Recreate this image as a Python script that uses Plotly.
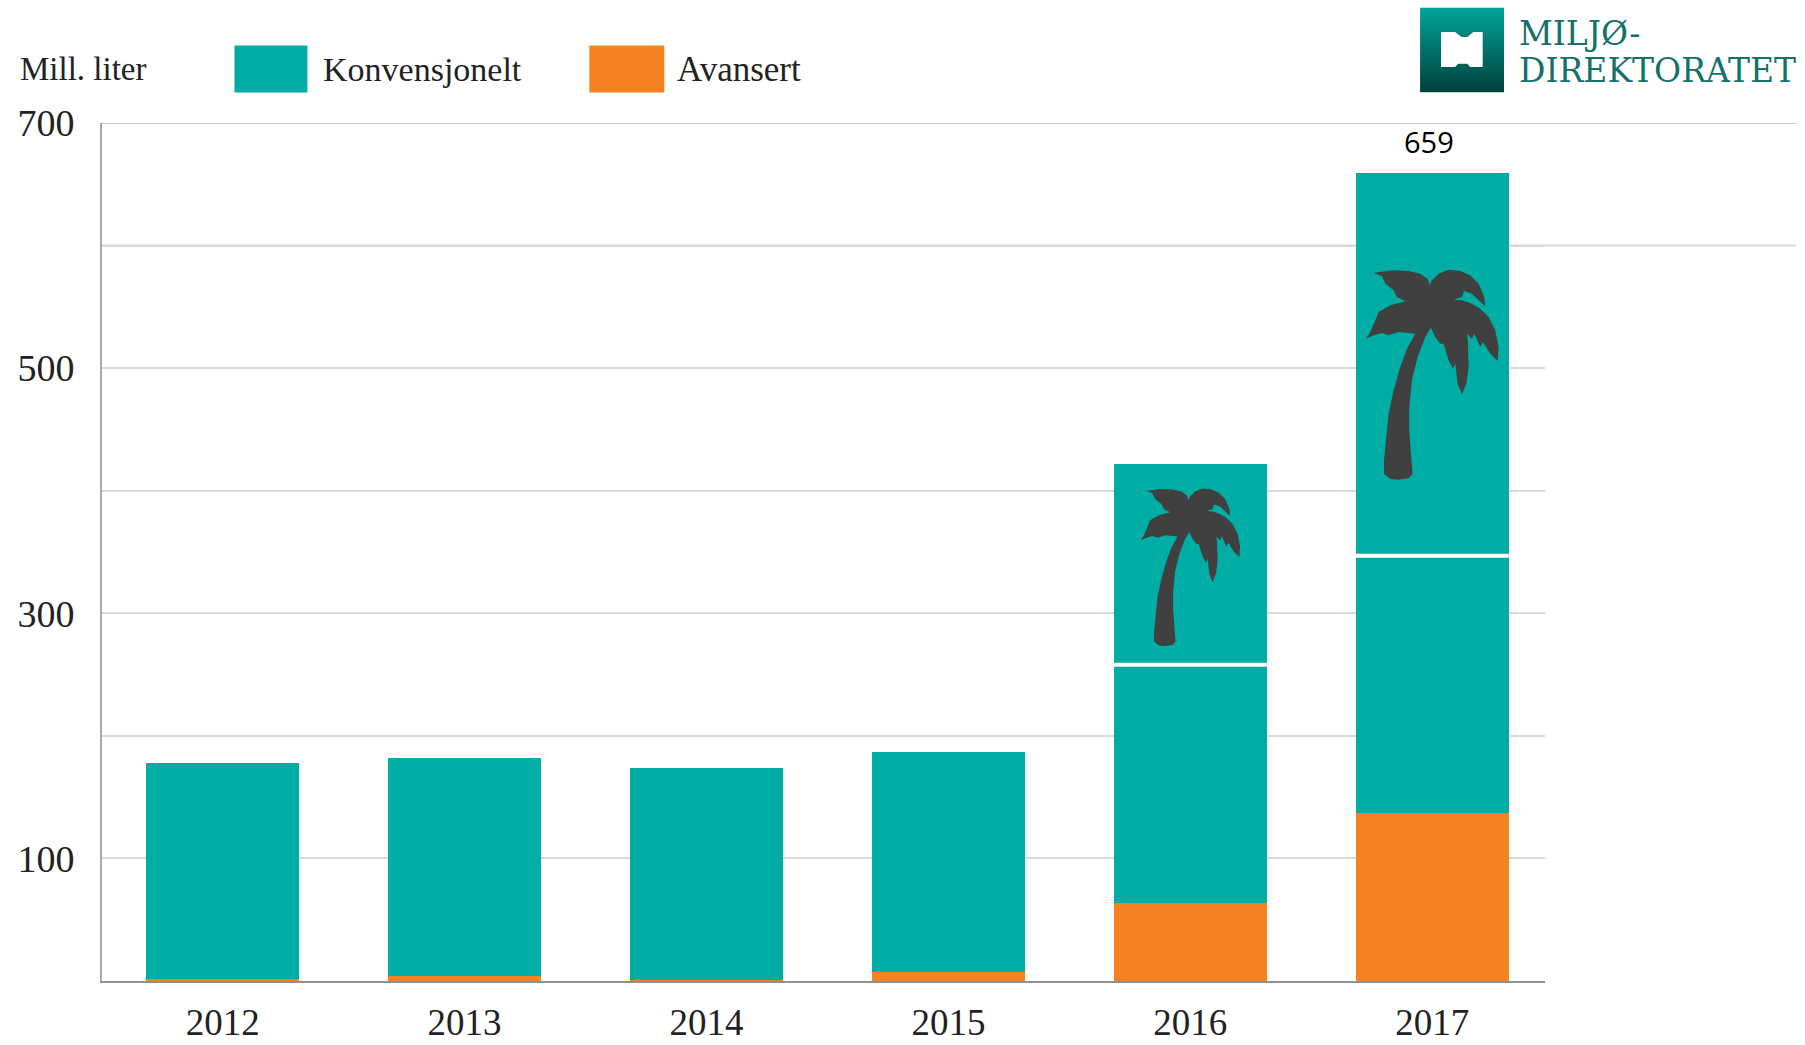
import base64
import plotly.graph_objects as go

years = ["2012", "2013", "2014", "2015", "2016", "2017"]
avansert = [1.5, 4, 1.2, 7, 64, 137]
konvensjonelt_ovrig = [176.5, 178, 172.4, 180, 194, 210]
konvensjonelt_palme = [0, 0, 0, 0, 164, 312]
y_ticks = [100, 200, 300, 400, 500, 600, 700]
y_labels = ["100", "", "300", "", "500", "", "700"]
separator_years = [4, 5]
palm_anchors = [(4, 337.6, 0.75), (5, 494.7, 1.0)]
total_label_index = 5

TEAL = "#00ada5"
ORANGE = "#f58220"
SERIF = "Liberation Serif"
W, H = 1805, 1045
L, R, T, B = 101.5, 1545, 122.6, 981

# Palm icon outline, traced in a 200x260 box (units of 1/3 px)
PALM = [(131,700),(150,716),(175,718),(205,714),(217,700),(212,640),(207,570),(207,500),(215,420),(232,350),
        (255,290),(272,262),(285,290),(300,310),(310,310),(325,360),(338,385),(345,370),(352,430),(365,462),
        (378,430),(385,380),(383,305),(380,280),(395,295),(402,280),(420,320),(428,305),(450,340),(472,362),
        (475,320),(465,270),(445,230),(420,205),(390,188),(365,180),(340,178),(365,170),(372,152),(395,160),
        (415,180),(435,198),(432,170),(415,130),(390,105),(360,92),(325,88),(295,100),(275,120),(268,135),
        (262,115),(240,100),(205,92),(160,90),(100,97),(125,108),(135,130),(160,150),(170,170),(195,183),
        (150,195),(115,215),(105,240),(90,275),(78,295),(100,285),(125,278),(145,285),(175,275),(225,280),
        (200,325),(180,380),(160,450),(145,520),(137,600),(131,660)]
PALM_CX, PALM_CY = 276, 403


def paper_x(x):
    return (x - L) / (R - L)


def paper_y(y):
    return (B - y) / (B - T)


def palm_path(scale):
    pts = [((x - PALM_CX) / 3 * scale, -(y - PALM_CY) / 3 * scale) for x, y in PALM]
    return "M " + " L ".join(f"{a:.2f} {b:.2f}" for a, b in pts) + " Z"


def rect(x0, y0, x1, y1, color, layer="above"):
    return dict(type="rect", xref="paper", yref="paper", x0=paper_x(x0), x1=paper_x(x1),
                y0=paper_y(y1), y1=paper_y(y0), fillcolor=color, line_width=0, layer=layer)


def label(x, y, text, size=35, color="#222222", family=SERIF, anchor="left"):
    return dict(xref="paper", yref="paper", x=paper_x(x), y=paper_y(y), text=text, showarrow=False,
                xanchor=anchor, yanchor="middle", font=dict(family=family, size=size, color=color))


fig = go.Figure()
x_index = list(range(len(years)))
for name, vals, col in [("Avansert", avansert, ORANGE),
                        ("Konvensjonelt", konvensjonelt_ovrig, TEAL),
                        ("Konvensjonelt (palmeolje)", konvensjonelt_palme, TEAL)]:
    fig.add_trace(go.Bar(x=x_index, y=vals, name=name, marker=dict(color=col, line_width=0), width=0.632))

shapes = []
# top gridlines that run on past the plot area
for v, c in [(600, "#d9d9d9"), (700, "#c4c4c4")]:
    shapes.append(dict(type="line", xref="paper", yref="y", x0=0, x1=paper_x(1796), y0=v, y1=v,
                       line=dict(color=c, width=2), layer="below"))
# separators between ordinary and palm-oil-based fuel
for i in separator_years:
    v = avansert[i] + konvensjonelt_ovrig[i]
    shapes.append(dict(type="line", xref="x", yref="y", x0=i - 0.316, x1=i + 0.316, y0=v, y1=v,
                       line=dict(color="white", width=4)))
# palm icons
for i, v, s in palm_anchors:
    shapes.append(dict(type="path", xref="x", yref="y", xsizemode="pixel", ysizemode="pixel",
                       xanchor=i, yanchor=v, path=palm_path(s), fillcolor="#404040", line_width=0))
# legend swatches
shapes.append(rect(234, 45, 307, 92, TEAL))
shapes.append(rect(589, 45, 664, 92, ORANGE))
# logo book (sits on the gradient square image)
BOOK = [(183,95),(225,95),(245,110),(262,110),(280,95),(308,95),(308,200),(270,200),(262,190),(235,190),(225,200),(183,200)]
shapes.append(dict(type="path", xref="paper", yref="paper",
                   path="M " + " L ".join(f"{paper_x(1380 + a / 3):.5f} {paper_y(c / 3):.5f}" for a, c in BOOK) + " Z",
                   fillcolor="white", line_width=0))

LOGO_SVG = ('<svg xmlns="http://www.w3.org/2000/svg" width="84" height="85" viewBox="0 0 84 85">'
            '<defs><linearGradient id="g" x1="0" y1="0" x2="0" y2="1">'
            '<stop offset="0" stop-color="#00a59b"/><stop offset="1" stop-color="#003f3a"/></linearGradient></defs>'
            '<rect width="84" height="85" fill="url(#g)"/></svg>')
logo_uri = "data:image/svg+xml;base64," + base64.b64encode(LOGO_SVG.encode()).decode()
images = [dict(source=logo_uri, xref="paper", yref="paper", x=paper_x(1420), y=paper_y(7),
               sizex=paper_x(1504) - paper_x(1420), sizey=paper_y(7) - paper_y(92),
               xanchor="left", yanchor="top", sizing="stretch", layer="above")]

total = avansert[total_label_index] + konvensjonelt_ovrig[total_label_index] + konvensjonelt_palme[total_label_index]
annotations = [
    label(17, 69, "Mill. liter", size=33),
    label(321, 69, "Konvensjonelt", size=34),
    label(675, 69, "Avansert", size=35),
    label(1517, 33, "MILJØ-", size=33, color="#14706a", family="DejaVu Serif"),
    label(1517, 70, "DIREKTORATET", size=33, color="#14706a", family="DejaVu Serif"),
    dict(x=total_label_index, y=total, xref="x", yref="y", text=str(round(total)), showarrow=False,
         yanchor="bottom", xshift=-3, yshift=10, font=dict(family="Open Sans", size=29, color="black")),
]

fig.update_layout(
    width=W, height=H, barmode="stack", showlegend=False, paper_bgcolor="white", plot_bgcolor="white",
    margin=dict(l=L, r=W - R, t=T, b=H - B, autoexpand=False),
    shapes=shapes, annotations=annotations, images=images,
    xaxis=dict(range=[-0.4988, 5.466], tickmode="array", tickvals=x_index, ticktext=years, showgrid=False,
               ticks="", showline=True, linecolor="#8f8f8f", linewidth=2, zeroline=False,
               ticklabelstandoff=8, tickfont=dict(family=SERIF, size=37, color="#222222")),
    yaxis=dict(range=[0, 700], tickmode="array", tickvals=y_ticks, ticktext=y_labels, showgrid=True,
               gridcolor="#d9d9d9", gridwidth=2, ticks="", showline=True, linecolor="#a8a8a8", linewidth=2,
               zeroline=False, ticklabelstandoff=18, tickfont=dict(family=SERIF, size=38, color="#222222")),
)

fig.write_html("out.html", config=dict(displayModeBar=False),
               post_script="document.body.style.margin='0';document.body.style.overflow='hidden';")
